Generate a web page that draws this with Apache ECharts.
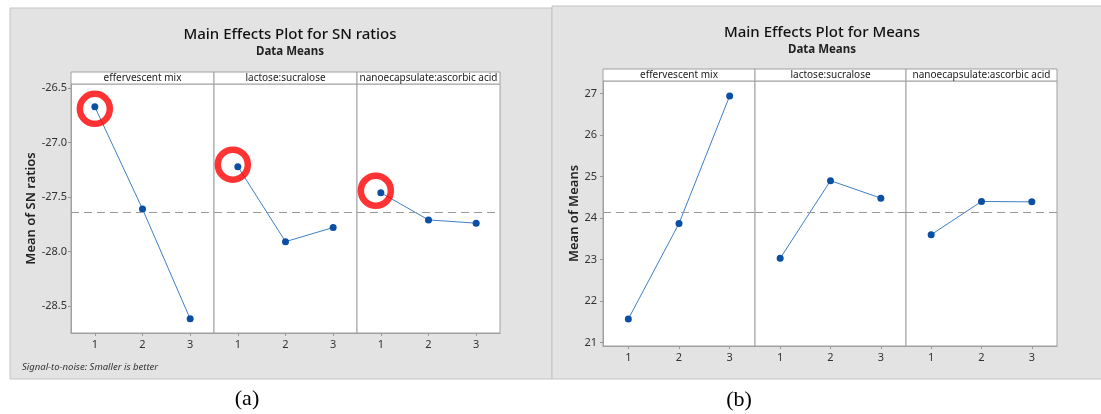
<!DOCTYPE html>
<html>
<head>
<meta charset="utf-8">
<script src="https://cdn.jsdelivr.net/npm/echarts@6/dist/echarts.min.js"></script>
<style>
  html, body { margin: 0; padding: 0; background: #fff; }
  #main { width: 1101px; height: 414px; }
</style>
</head>
<body>
<div id="main"></div>
<script>
// factor levels and names
var levels = [1, 2, 3];
var factors = ['effervescent mix', 'lactose:sucralose', 'nanoecapsulate:ascorbic acid'];

// (a) mean of SN ratios per level
var snEffervescent = [-26.67, -27.61, -28.62];
var snLactose = [-27.22, -27.91, -27.78];
var snNano = [-27.46, -27.71, -27.74];
var snTicks = [-26.5, -27.0, -27.5, -28.0, -28.5];

// (b) mean of means per level
var meanEffervescent = [21.57, 23.87, 26.94];
var meanLactose = [23.03, 24.90, 24.48];
var meanNano = [23.60, 24.40, 24.39];
var meanTicks = [21, 22, 23, 24, 25, 26, 27];

var chart = echarts.init(document.getElementById('main'));

var font = 'Noto Sans';
var lineColor = '#3f7fc4';
var dotColor = '#0a4fa3';
var frameColor = '#a0a0a0';

function avg(arrs) {
  var s = 0, n = 0;
  arrs.forEach(function (a) { a.forEach(function (v) { s += v; n++; }); });
  return s / n;
}

// panel layouts (px)
var panels = [
  { lefts: [71, 214, 357], widths: [143, 143, 143], top: 84, height: 249,
    data: [snEffervescent, snLactose, snNano], min: -28.75, max: -26.46,
    ticks: snTicks, dec: 1, yName: 'Mean of SN ratios', nameGap: 33, labelMargin: 4 },
  { lefts: [603, 755, 906], widths: [152, 151, 151], top: 81, height: 265,
    data: [meanEffervescent, meanLactose, meanNano], min: 20.92, max: 27.3,
    ticks: meanTicks, dec: 0, yName: 'Mean of Means', nameGap: 22, labelMargin: 6 }
];

var grids = [], xAxes = [], yAxes = [], series = [], graphics = [];

// gray panel backgrounds
graphics.push({ type: 'rect', shape: { x: 10, y: 8, width: 542, height: 371 }, style: { fill: '#e3e3e3', stroke: '#c4c4c4', lineWidth: 1 }, z: -10 });
graphics.push({ type: 'rect', shape: { x: 552, y: 6, width: 560, height: 373 }, style: { fill: '#e3e3e3', stroke: '#c4c4c4', lineWidth: 1 }, z: -10 });

panels.forEach(function (p, pi) {
  var grand = avg(p.data);
  p.data.forEach(function (vals, fi) {
    var gi = grids.length;
    grids.push({ left: p.lefts[fi], top: p.top, width: p.widths[fi], height: p.height,
      show: true, backgroundColor: '#fff', borderColor: frameColor, borderWidth: 1 });
    xAxes.push({
      type: 'value', gridIndex: gi, min: 0.5, max: 3.5,
      axisLine: { show: true, onZero: false, lineStyle: { color: frameColor } },
      axisTick: { show: true, customValues: levels, length: 3, lineStyle: { color: '#999' } },
      axisLabel: { customValues: levels, color: '#333', fontSize: 11, fontFamily: font, margin: 6 },
      splitLine: { show: false }
    });
    yAxes.push({
      type: 'value', gridIndex: gi, min: p.min, max: p.max,
      name: fi === 0 ? p.yName : '', nameLocation: 'middle', nameGap: p.nameGap,
      nameTextStyle: { color: '#222', fontSize: 13, fontFamily: font, fontWeight: 600 },
      axisLine: { show: fi === 0, lineStyle: { color: frameColor } },
      axisTick: { show: fi === 0, customValues: p.ticks, length: 3, lineStyle: { color: '#999' } },
      axisLabel: { show: fi === 0, customValues: p.ticks, color: '#333', fontSize: 11, fontFamily: font, margin: p.labelMargin,
        formatter: function (v) { return v.toFixed(p.dec); } },
      splitLine: { show: false }
    });
    series.push({
      type: 'line', xAxisIndex: gi, yAxisIndex: gi,
      data: levels.map(function (l, k) { return [l, vals[k]]; }),
      symbol: 'circle', symbolSize: 7,
      lineStyle: { color: lineColor, width: 1 },
      itemStyle: { color: dotColor },
      markLine: {
        silent: true, symbol: 'none', label: { show: false },
        lineStyle: { color: '#999', type: [8, 5], width: 1 },
        data: [{ yAxis: grand }]
      },
      z: 3
    });
    if (pi === 0) {
      // red highlight ring around level 1
      series.push({
        type: 'scatter', xAxisIndex: gi, yAxisIndex: gi,
        data: [[levels[0], vals[0]]],
        symbol: 'circle', symbolSize: 30,
        symbolOffset: fi === 0 ? [0, 2] : [-5, -2],
        itemStyle: { color: 'rgba(0,0,0,0)', borderColor: '#ff0000', borderWidth: 6.5 },
        z: 4
      });
    }
    // factor strip above each grid
    graphics.push({ type: 'rect', shape: { x: p.lefts[fi], y: p.top - 12, width: p.widths[fi], height: 12 },
      style: { fill: '#fff', stroke: frameColor, lineWidth: 1 } });
    graphics.push({ type: 'text', x: p.lefts[fi] + p.widths[fi] / 2, y: p.top - 6,
      style: { text: factors[fi], fill: '#222', font: '10px "' + font + '"', textAlign: 'center', textVerticalAlign: 'middle' } });
  });
});

// footnote and captions
graphics.push({ type: 'text', x: 22, y: 367, style: { text: 'Signal-to-noise: Smaller is better', fill: '#333',
  font: 'italic 9.5px "' + font + '"', textVerticalAlign: 'middle' } });
graphics.push({ type: 'text', x: 247, y: 399, style: { text: '(a)', fill: '#000',
  font: '22px "Liberation Serif"', textAlign: 'center', textVerticalAlign: 'middle' } });
graphics.push({ type: 'text', x: 739, y: 400, style: { text: '(b)', fill: '#000',
  font: '22px "Liberation Serif"', textAlign: 'center', textVerticalAlign: 'middle' } });

chart.setOption({
  animation: false,
  title: [
    { text: 'Main Effects Plot for SN ratios', subtext: 'Data Means', left: 285, top: 22, textAlign: 'center', itemGap: 4,
      textStyle: { fontSize: 15, fontWeight: 500, color: '#111', fontFamily: font },
      subtextStyle: { fontSize: 11.5, fontWeight: 'bold', color: '#222', fontFamily: font } },
    { text: 'Main Effects Plot for Means', subtext: 'Data Means', left: 817, top: 20, textAlign: 'center', itemGap: 4,
      textStyle: { fontSize: 15, fontWeight: 500, color: '#111', fontFamily: font },
      subtextStyle: { fontSize: 11.5, fontWeight: 'bold', color: '#222', fontFamily: font } }
  ],
  grid: grids,
  xAxis: xAxes,
  yAxis: yAxes,
  series: series,
  graphic: graphics
});
</script>
</body>
</html>
